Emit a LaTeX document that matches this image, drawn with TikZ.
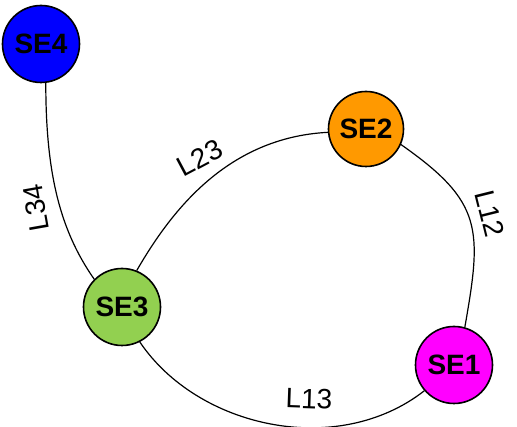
\documentclass[tikz,border=0pt]{standalone}
\usepackage{fontspec}
\setmainfont{Liberation Sans}
\begin{document}
\begin{tikzpicture}[x=1pt,y=1pt,
  station/.style={circle,draw=black,line width=1.6pt,inner sep=0pt,
    minimum size=77pt,font=\fontsize{28}{30}\selectfont\bfseries},
  link/.style={line width=1.2pt},
  linklabel/.style={font=\fontsize{28}{30}\selectfont,inner sep=0pt}]
\useasboundingbox (0,0) rectangle (517,427);
% substations
\node[station,fill={rgb,255:red,0;green,0;blue,255}] (se4) at (41,383) {SE4};
\node[station,fill={rgb,255:red,255;green,153;blue,0},minimum size=75pt] (se2) at (366,298) {SE2};
\node[station,fill={rgb,255:red,146;green,208;blue,80}] (se3) at (122,120) {SE3};
\node[station,fill={rgb,255:red,255;green,0;blue,255}] (se1) at (454,62) {SE1};
% lines between substations
\draw[link] (se4.-83) .. controls +(-90:90) and +(125:60) .. (se3.135);
\draw[link] (se3.68) .. controls +(60:70) and +(183:100) .. (se2.185);
\draw[link] (se2.-24) .. controls +(-35:100) and +(80:100) .. (se1.74);
\draw[link] (se1.221) .. controls +(-142:110) and +(-56:104) .. (se3.-63);
% line labels
\node[linklabel,rotate=28] (l23) at (200,269) {L23};
\node[linklabel,rotate=100] (l34) at (36,219) {L34};
\node[linklabel,rotate=-76] (l12) at (490,213) {L12};
\node[linklabel,rotate=-2] (l13) at (309,28) {L13};
\end{tikzpicture}
\end{document}
